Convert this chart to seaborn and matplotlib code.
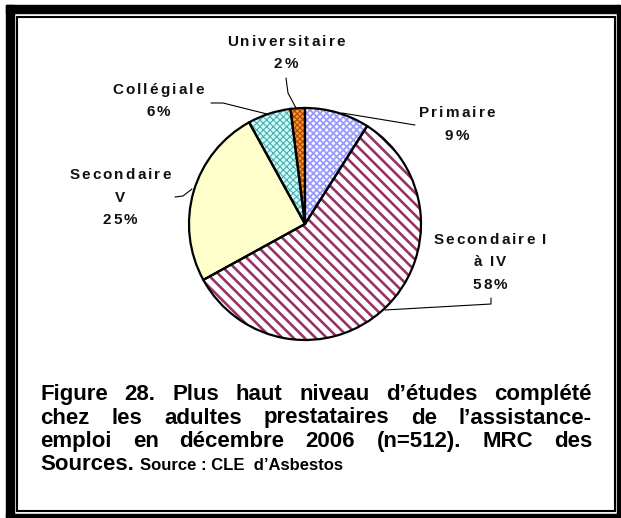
import matplotlib
matplotlib.use("Agg")
import matplotlib.pyplot as plt
import matplotlib.patches as mpatches
import seaborn as sns

sns.set_theme(style="white")
plt.rcParams['font.family'] = ['Liberation Sans', 'DejaVu Sans']

# Data
categories = ["Primaire", "Secondaire I\nà IV", "Secondaire\nV", "Collégiale", "Universitaire"]
values = [9, 58, 25, 6, 2]
face_colors = ["#FFFFFF", "#FFFFFF", "#FFFFCC", "#CCFFFF", "#FF9933"]
hatch_colors = ["#9999FF", "#993366", "#FFFFCC", "#55AAAA", "#B04A00"]
hatches = ["xxxxx", "\\\\\\", "", "xxxxx", "xxxxxx"]
hatch_widths = [1.3, 1.9, 0.8, 0.8, 0.9]

caption_lines = [
    "Figure 28. Plus haut niveau d’études complété",
    "chez les adultes prestataires de l’assistance-",
    "emploi en décembre 2006 (n=512). MRC des",
]
caption_last = "Sources."
caption_source = "Source : CLE  d’Asbestos"

W, H = 621, 518
fig = plt.figure(figsize=(W / 100, H / 100), dpi=100)
ax = fig.add_axes([0, 0, 1, 1])
renderer = fig.canvas.get_renderer()


def py(y):
    return H - y


def spaced_text(cx, y, s, size=11, spacing=2.1):
    # letter-spaced text centred on cx, one Text per character
    chars = [ax.text(0, y, c, ha="left", va="center", fontsize=size,
                     fontweight="bold", color="#111111") for c in s]
    widths = [t.get_window_extent(renderer).width if c != " " else size * 0.3
              for t, c in zip(chars, s)]
    total = sum(widths) + spacing * (len(s) - 1)
    x = cx - total / 2
    for t, wd in zip(chars, widths):
        t.set_x(x)
        x += wd + spacing


center = (305, py(224))
radius = 116

# hatch layer
wedges, _ = ax.pie(values, startangle=90, counterclock=False, center=center, radius=radius,
                   colors=face_colors)
for w, h, hc, hw in zip(wedges, hatches, hatch_colors, hatch_widths):
    w.set_hatch(h)
    w.set_edgecolor(hc)
    w.set_linewidth(0)
    if hasattr(w, "set_hatch_linewidth"):
        w.set_hatch_linewidth(hw)

# black outlines
ax.pie(values, startangle=90, counterclock=False, center=center, radius=radius,
       wedgeprops=dict(fill=False, edgecolor="black", linewidth=1.6))

# labels
label_pos = [(457, 113), (490, 240), (120, 175), (158, 90), (286, 42)]
for cat, val, (lx, ly) in zip(categories, values, label_pos):
    lines = cat.split("\n") + [f"{val}%"]
    for i, line in enumerate(lines):
        spaced_text(lx, py(ly + i * 22.5), line)

leaders = [
    [(342, 113), (415, 125)],
    [(491, 298), (491, 304), (385, 310)],
    [(175, 197), (183, 196), (192, 189)],
    [(211, 103), (223, 103), (267, 114)],
    [(286, 78), (288, 93), (296, 108)],
]
for pts in leaders:
    ax.plot([p[0] for p in pts], [py(p[1]) for p in pts], color="black", lw=0.8)

# caption, justified
x0, x1 = 40, 592
baselines = [400, 423.5, 447, 470.5]
for line, yb in zip(caption_lines, baselines):
    words = line.split()
    texts = [ax.text(0, py(yb), wd, ha="left", va="baseline", fontsize=16,
                     fontweight="bold", color="black") for wd in words]
    widths = [t.get_window_extent(renderer).width for t in texts]
    gap = (x1 - x0 - sum(widths)) / (len(words) - 1)
    x = x0
    for t, wd in zip(texts, widths):
        t.set_x(x)
        x += wd + gap

t_last = ax.text(x0, py(baselines[3]), caption_last, ha="left", va="baseline",
                 fontsize=16, fontweight="bold", color="black")
wl = t_last.get_window_extent(renderer).width
ax.text(x0 + wl + 6, py(baselines[3]), caption_source, ha="left", va="baseline",
        fontsize=12, fontweight="bold", color="black")

# frame
ax.add_patch(mpatches.Rectangle((6, py(517)), 8, 512, color="black"))
ax.add_patch(mpatches.Rectangle((6, py(13)), 613, 8, color="black"))
ax.add_patch(mpatches.Rectangle((617, py(517)), 2.5, 512, color="black"))
ax.add_patch(mpatches.Rectangle((6, py(517)), 613, 3, color="black"))
ax.add_patch(mpatches.Rectangle((16.5, py(511)), 598, 494.5, fill=False,
                                edgecolor="black", lw=1.5))

ax.set_xlim(0, W)
ax.set_ylim(0, H)
ax.set_aspect("auto")
ax.axis("off")

fig.savefig("out.png", dpi=100)
